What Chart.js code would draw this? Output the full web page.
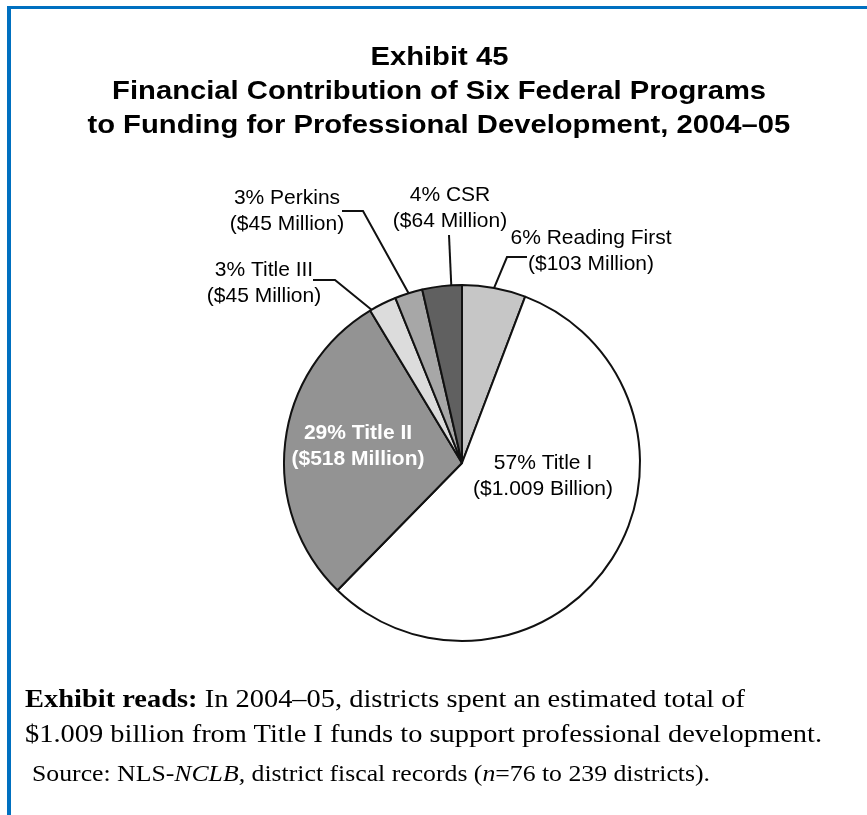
<!DOCTYPE html>
<html>
<head>
<meta charset="utf-8">
<script src="https://cdn.jsdelivr.net/npm/chart.js@4"></script>
<style>
  html, body { margin: 0; padding: 0; background: #fff; }
  body { width: 867px; height: 815px; position: relative; overflow: hidden; }
  #frame { position: absolute; left: 7px; top: 6px; width: 900px; height: 900px;
           border-top: 3px solid #0070c0; border-left: 4px solid #0070c0; }
  #pie { position: absolute; left: 0; top: 0; }
  .title { position: absolute; left: 0; width: 878px; text-align: center;
           font: bold 26px "Liberation Sans", Arial, sans-serif; line-height: 34px; color: #000; }
  .title span, .note span { display: inline-block; white-space: nowrap; }
  .title span { transform-origin: center; }
  .note { position: absolute; font: 25px "Liberation Serif", "Times New Roman", serif;
          line-height: 35px; color: #000; white-space: nowrap; }
  .note span { transform-origin: left; }
</style>
</head>
<body>
<div id="frame"></div>
<canvas id="pie" width="867" height="815"></canvas>

<div class="title" style="top:39px"><span>Exhibit 45</span></div>
<div class="title" style="top:73px"><span id="t2">Financial Contribution of Six Federal Programs</span></div>
<div class="title" style="top:107px"><span>to Funding for Professional Development, 2004–05</span></div>

<div class="note" style="left:25px; top:681px"><span data-w="720"><b>Exhibit reads:</b> In 2004–05, districts spent an estimated total of</span></div>
<div class="note" style="left:25px; top:716px"><span data-w="797">$1.009 billion from Title I funds to support professional development.</span></div>
<div class="note" style="left:32px; top:756px; font-size:23px"><span data-w="678">Source: NLS-<i>NCLB,</i> district fiscal records (<i>n</i>=76 to 239 districts).</span></div>

<script>
// Datos (en sentido horario desde las 12)
const programs = ['Reading First', 'Title I', 'Title II', 'Title III', 'Perkins', 'CSR'];
const dollars = [103, 1009, 518, 45, 45, 64];        // millones
const percentText = ['6%', '57%', '29%', '3%', '3%', '4%'];
const amountText = ['$103 Million', '$1.009 Billion', '$518 Million', '$45 Million', '$45 Million', '$64 Million'];

const sliceColors = ['#c6c6c6', '#ffffff', '#939393', '#dcdcdc', '#a7a7a7', '#606060'];

// Posicion de etiquetas, relativa al centro del pastel
const labelPlaces = [
    { dx: 129, dy: -225, color: '#000', leader: [[45, -206], [65, -206]] },
    { dx: 81, dy: 0, color: '#000' },
    { dx: -104, dy: -30, color: '#fff', bold: true },
    { dx: -198, dy: -193, color: '#000', leader: [[-127, -183], [-149, -183]], shift: -4 },
    { dx: -175, dy: -265, color: '#000', leader: [[-99, -252], [-120, -252]] },
    { dx: -12, dy: -268, color: '#000', leader: [[-13, -228]], shift: 3 }
];

const sliceLabels = {
    id: 'sliceLabels',
    afterDatasetsDraw(chart) {
        const ctx = chart.ctx;
        const arcs = chart.getDatasetMeta(0).data;
        arcs.forEach((arc, i) => {
            const p = labelPlaces[i];
            const cx = arc.x, cy = arc.y;
            ctx.save();
            if (p.leader) {
                const mid = (arc.startAngle + arc.endAngle) / 2 + (p.shift || 0) * Math.PI / 180;
                const r = arc.outerRadius;
                ctx.beginPath();
                ctx.moveTo(cx + Math.cos(mid) * r, cy + Math.sin(mid) * r);
                p.leader.forEach(([x, y]) => ctx.lineTo(cx + x, cy + y));
                ctx.lineWidth = 2;
                ctx.strokeStyle = '#111';
                ctx.stroke();
            }
            ctx.font = (p.bold ? 'bold ' : '') + '21px "Liberation Sans", Arial, sans-serif';
            ctx.fillStyle = p.color;
            ctx.textAlign = 'center';
            ctx.textBaseline = 'middle';
            const lines = [percentText[i] + ' ' + programs[i], '(' + amountText[i] + ')'];
            lines.forEach((t, k) => ctx.fillText(t, cx + p.dx, cy + p.dy + k * 26));
            ctx.restore();
        });
    }
};

new Chart(document.getElementById('pie'), {
    type: 'pie',
    data: {
        labels: programs,
        datasets: [{
            data: dollars,
            backgroundColor: sliceColors,
            borderColor: '#111',
            borderWidth: 2,
            radius: 178
        }]
    },
    options: {
        responsive: false,
        animation: false,
        layout: { padding: { left: 100, right: 43, top: 200, bottom: 89 } },
        plugins: { legend: { display: false }, tooltip: { enabled: false } }
    },
    plugins: [sliceLabels]
});

// Ajustar ancho de textos
const t2 = document.getElementById('t2');
const titleScale = 654 / t2.getBoundingClientRect().width;
document.querySelectorAll('.title span').forEach(s => s.style.transform = 'scaleX(' + titleScale + ')');
document.querySelectorAll('.note span').forEach(s => {
    const w = +s.dataset.w;
    s.style.transform = 'scaleX(' + (w / s.getBoundingClientRect().width) + ')';
});
</script>
</body>
</html>
